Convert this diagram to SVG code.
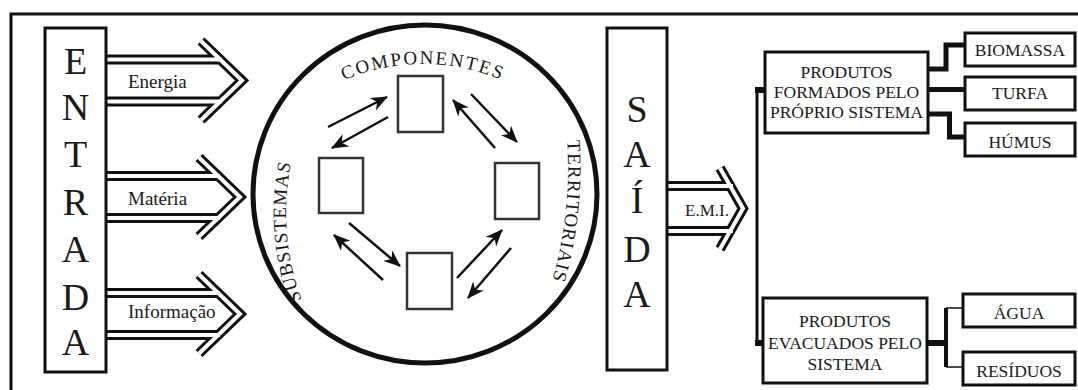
<svg xmlns="http://www.w3.org/2000/svg" width="1078" height="390" viewBox="0 0 1078 390" font-family="'Liberation Serif', 'Times New Roman', Times, Tinos, 'Noto Serif', 'DejaVu Serif', serif">
<style>
text{font-family:'Liberation Serif','Times New Roman',Times,Tinos,'Noto Serif','DejaVu Serif',serif;fill:#1a1a1a}
.big{font-size:38px;text-anchor:middle}
.lbl{font-size:19px}
.box{fill:#fff;stroke:#111;stroke-width:3}
.sq{fill:#fff;stroke:#333;stroke-width:2.5}
.bk{fill:none;stroke:#111;stroke-width:10;stroke-linejoin:miter;stroke-miterlimit:10}
.wh{fill:none;stroke:#fff;stroke-width:4;stroke-linejoin:miter;stroke-miterlimit:10}
.con{fill:none;stroke:#111;stroke-linejoin:miter}
.sm{stroke:#111;stroke-width:2.5;fill:none;marker-end:url(#ah)}
.bt{font-size:17.5px;text-anchor:middle}
.arc{font-size:19px;letter-spacing:1px}
</style>
<defs>
<marker id="ah" viewBox="0 0 17 14" refX="16" refY="7" markerWidth="17" markerHeight="14" markerUnits="userSpaceOnUse" orient="auto"><path d="M0,0 L17,7 L0,14 L5,7 z" fill="#111"/></marker>
<path id="pComp" d="M303,104 A200,200 0 0,1 543,104"/>
<path id="pSub" d="M318,335 A250,250 0 0,1 302,125"/>
<path id="pTer" d="M564.5,115 A400,400 0 0,1 544,305"/>
</defs>
<rect x="0" y="0" width="1078" height="390" fill="#fff"/>
<rect x="11" y="14" width="1070" height="385" fill="none" stroke="#111" stroke-width="3"/>

<g id="connectors">
<g id="arrow-energia">
<path class="bk" d="M107,59.5 H220 M107,101.5 H220 M201,41 L242,80.5 L201,120"/>
<path class="wh" d="M105,59.5 H222 M105,101.5 H222 M201,41 L242,80.5 L201,120"/>
</g>
<g id="arrow-materia">
<path class="bk" d="M107,176 H218 M107,218 H218 M199,157.5 L240,197 L199,236.5"/>
<path class="wh" d="M105,176 H220 M105,218 H220 M199,157.5 L240,197 L199,236.5"/>
</g>
<g id="arrow-informacao">
<path class="bk" d="M107,293 H218 M107,335 H218 M199,274.5 L240,314 L199,353.5"/>
<path class="wh" d="M105,293 H220 M105,335 H220 M199,274.5 L240,314 L199,353.5"/>
</g>
<g id="arrow-emi">
<path class="bk" d="M668,186 H731 M668,231 H731 M720,168 L743,208.5 L720,249"/>
<path class="wh" d="M666,186 H733 M666,231 H733 M720,168 L743,208.5 L720,249"/>
</g>
<line class="sm" x1="328" y1="127" x2="387" y2="97"/>
<line class="sm" x1="388" y1="117" x2="332" y2="148"/>
<line class="sm" x1="495" y1="148" x2="453" y2="100"/>
<line class="sm" x1="471" y1="94" x2="517" y2="142"/>
<line class="sm" x1="383" y1="280" x2="334" y2="235"/>
<line class="sm" x1="349" y1="223" x2="400" y2="266"/>
<line class="sm" x1="457" y1="278" x2="502" y2="230"/>
<line class="sm" x1="511" y1="248" x2="468" y2="298"/>
<path class="con" stroke-width="3" d="M757,90 V344"/>
<path class="con" stroke-width="6" d="M755,90 H766 M755,343 H764"/>
<path class="con" stroke-width="5" d="M928,69 H946 V45 H966"/>
<path class="con" stroke-width="5" d="M928,89.5 H966"/>
<path class="con" stroke-width="5" d="M928,114 H949.5 V137 H966"/>
<path class="con" stroke-width="6" d="M927,343 H946"/>
<path class="con" stroke-width="4" d="M946,308 V367"/>
<path class="con" stroke-width="1.5" d="M946,308 H964 M946,367 H964"/>
</g>

<g id="entrada">
<rect class="box" x="45" y="28" width="61" height="344" stroke-width="3.5"/>
<text class="big" x="75.5" y="74">E</text>
<text class="big" x="75.5" y="120">N</text>
<text class="big" x="75.5" y="167">T</text>
<text class="big" x="75.5" y="215">R</text>
<text class="big" x="75.5" y="262">A</text>
<text class="big" x="75.5" y="310">D</text>
<text class="big" x="75.5" y="355">A</text>
</g>
<g id="lbl-energia"><text class="lbl" x="128" y="88">Energia</text></g>
<g id="lbl-materia"><text class="lbl" x="128" y="205">Matéria</text></g>
<g id="lbl-informacao"><text class="lbl" x="128" y="318">Informação</text></g>

<g id="sistema">
<ellipse cx="425" cy="194" rx="172" ry="169" fill="none" stroke="#111" stroke-width="5"/>
<text class="arc" style="letter-spacing:2px"><textPath href="#pComp" startOffset="50%" text-anchor="middle">COMPONENTES</textPath></text>
<text class="arc"><textPath href="#pSub" startOffset="50%" text-anchor="middle">SUBSISTEMAS</textPath></text>
<text class="arc"><textPath href="#pTer" startOffset="50%" text-anchor="middle">TERRITORIAIS</textPath></text>
</g>
<g id="sq-top"><rect class="sq" x="398" y="76" width="45" height="56"/></g>
<g id="sq-left"><rect class="sq" x="319" y="158" width="44" height="55"/></g>
<g id="sq-right"><rect class="sq" x="495" y="163" width="44" height="56"/></g>
<g id="sq-bottom"><rect class="sq" x="407" y="253" width="45" height="56"/></g>

<g id="saida">
<rect class="box" x="607" y="28" width="60" height="342" stroke-width="3.5"/>
<text class="big" x="637" y="122">S</text>
<text class="big" x="637" y="167">A</text>
<text class="big" x="637" y="213">Í</text>
<text class="big" x="637" y="262">D</text>
<text class="big" x="637" y="307">A</text>
</g>
<g id="lbl-emi"><text x="707" y="216" style="font-size:17px;text-anchor:middle">E.M.I.</text></g>

<g id="produtos-formados">
<rect class="box" x="765" y="52" width="163" height="81"/>
<text class="bt" x="846.5" y="78">PRODUTOS</text>
<text class="bt" x="846.5" y="98">FORMADOS PELO</text>
<text class="bt" x="846.5" y="118">PRÓPRIO SISTEMA</text>
</g>
<g id="biomassa"><rect class="box" x="965" y="33" width="110" height="33"/><text class="bt" x="1020" y="56">BIOMASSA</text></g>
<g id="turfa"><rect class="box" x="965" y="77" width="110" height="33"/><text class="bt" x="1020" y="99">TURFA</text></g>
<g id="humus"><rect class="box" x="965" y="123" width="110" height="33"/><text class="bt" x="1020" y="148">HÚMUS</text></g>

<g id="produtos-evacuados">
<rect class="box" x="763" y="298" width="164" height="85"/>
<text class="bt" x="845" y="327">PRODUTOS</text>
<text class="bt" x="845" y="349">EVACUADOS PELO</text>
<text class="bt" x="845" y="370">SISTEMA</text>
</g>
<g id="agua"><rect class="box" x="963" y="294" width="112" height="33"/><text class="bt" x="1019" y="319">ÁGUA</text></g>
<g id="residuos"><rect class="box" x="963" y="352" width="112" height="33"/><text class="bt" x="1019" y="377">RESÍDUOS</text></g>
</svg>
